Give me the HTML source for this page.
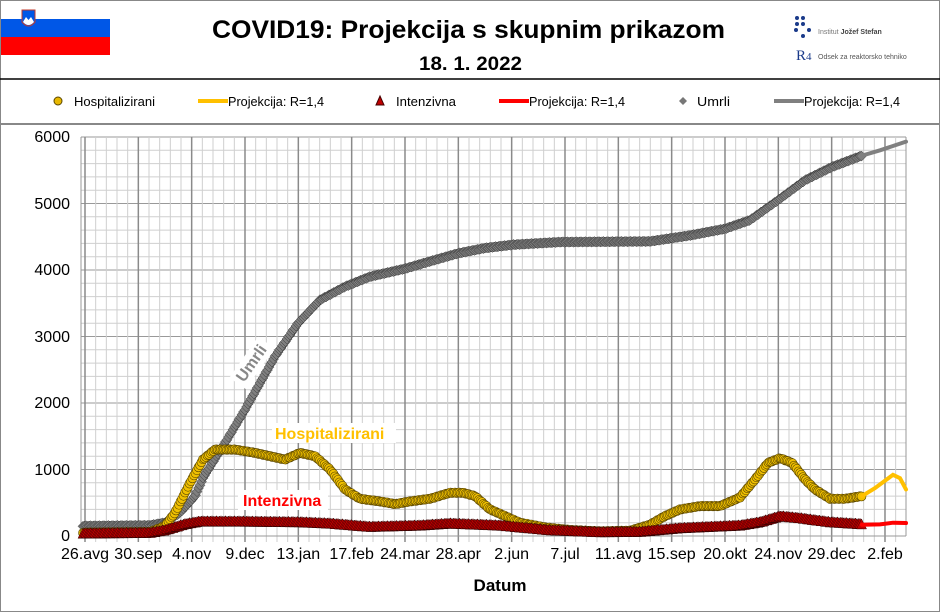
<!DOCTYPE html>
<html><head><meta charset="utf-8"><style>
html,body{margin:0;padding:0;background:#fff}
svg{display:block;font-family:"Liberation Sans",sans-serif}
</style></head><body>
<svg id="s" width="940" height="612" viewBox="0 0 940 612" xmlns="http://www.w3.org/2000/svg">
<rect x="0.5" y="0.5" width="939" height="611" fill="#fff" stroke="#888" stroke-width="1"/>
<rect x="1" y="19" width="109" height="18" fill="#0057e7"/>
<rect x="1" y="37" width="109" height="18" fill="#ff0000"/>
<path d="M22 10 L35 10 L35 22 Q28.5 30 22 22 Z" fill="#0057e7" stroke="#c0392b" stroke-width="1"/>
<path d="M23 22 L26 17 L28.5 20 L31 17 L34 22 Q28.5 28 23 22Z" fill="#fff"/>
<text x="212" y="38" font-size="25" font-weight="bold" textLength="513" lengthAdjust="spacingAndGlyphs">COVID19: Projekcija s skupnim prikazom</text>
<text x="419" y="70" font-size="19" font-weight="bold" textLength="103" lengthAdjust="spacingAndGlyphs">18. 1. 2022</text>
<g fill="#1a3a8a"><circle cx="797" cy="18" r="2"/><circle cx="803" cy="18" r="2"/><circle cx="797" cy="24" r="2"/><circle cx="803" cy="24" r="2"/><circle cx="796" cy="30" r="2"/><circle cx="809" cy="30" r="2"/><circle cx="803" cy="36" r="2"/></g>
<text x="818" y="34" font-size="7" fill="#777">Institut <tspan font-weight="bold" fill="#444">Jožef Stefan</tspan></text>
<text x="796" y="60" font-size="15" fill="#1a3a8a" font-family="Liberation Serif">R<tspan font-size="11">4</tspan></text>
<text x="818" y="59" font-size="7" fill="#555">Odsek za reaktorsko tehniko</text>
<line x1="0" y1="79" x2="940" y2="79" stroke="#000" stroke-width="1.5"/>
<line x1="0" y1="124" x2="940" y2="124" stroke="#888" stroke-width="2"/>
<g font-size="13">
<circle cx="58" cy="101" r="4" fill="#e8b800" stroke="#5a4600"/>
<text x="74" y="106" textLength="81" lengthAdjust="spacingAndGlyphs">Hospitalizirani</text>
<line x1="198" y1="101" x2="228" y2="101" stroke="#ffc000" stroke-width="4"/>
<text x="228" y="106" textLength="96" lengthAdjust="spacingAndGlyphs">Projekcija: R=1,4</text>
<path d="M380 96 L384 105 L376 105Z" fill="#c00000" stroke="#400"/>
<text x="396" y="106" textLength="60" lengthAdjust="spacingAndGlyphs">Intenzivna</text>
<line x1="499" y1="101" x2="529" y2="101" stroke="#ff0000" stroke-width="4"/>
<text x="529" y="106" textLength="96" lengthAdjust="spacingAndGlyphs">Projekcija: R=1,4</text>
<path d="M683 97 L687 101 L683 105 L679 101Z" fill="#777"/>
<text x="697" y="106" textLength="33" lengthAdjust="spacingAndGlyphs">Umrli</text>
<line x1="774" y1="101" x2="804" y2="101" stroke="#808080" stroke-width="4"/>
<text x="804" y="106" textLength="96" lengthAdjust="spacingAndGlyphs">Projekcija: R=1,4</text>
</g>
<g id="grid"></g>
<g id="data"></g>
<g font-size="16" text-anchor="end">
<text x="70" y="142">6000</text><text x="70" y="209">5000</text><text x="70" y="275">4000</text>
<text x="70" y="342">3000</text><text x="70" y="408">2000</text><text x="70" y="475">1000</text><text x="70" y="541">0</text>
</g>
<g id="xl" font-size="16" text-anchor="middle"></g>
<text x="500" y="591" text-anchor="middle" font-size="17" font-weight="bold">Datum</text>
<g font-weight="bold" font-size="16">
<rect x="272" y="423" width="124" height="20" fill="#fff"/>
<text x="275" y="439" fill="#ffc000">Hospitalizirani</text>
<rect x="238" y="490" width="90" height="20" fill="#fff"/>
<text x="243" y="506" fill="#ff0000">Intenzivna</text>
<g transform="translate(244,383) rotate(-55)"><rect x="-4" y="-15" width="50" height="20" fill="#fff"/><text x="0" y="0" fill="#888">Umrli</text></g>
</g>
</svg>
<script>
var NS="http://www.w3.org/2000/svg";
function el(p,t,a){var e=document.createElementNS(NS,t);for(var k in a)e.setAttribute(k,a[k]);p.appendChild(e);return e;}
var g=document.getElementById('grid');
var L=81,R=906,T=137,B=536;
for(var i=0;i<=30;i++){var y=B-i*399/30;el(g,'line',{x1:L,x2:R,y1:y,y2:y,stroke:i%5==0?'#999':'#cfcfcf','stroke-width':1});}
for(var x=85,k=0;x<=R;x+=53.333/5,k++){el(g,'line',{x1:x,x2:x,y1:T,y2:B+6,stroke:k%5==0?'#8a8a8a':'#cfcfcf','stroke-width':k%5==0?1.5:1});}
el(g,'line',{x1:L,x2:L,y1:T,y2:B,stroke:'#999'});el(g,'line',{x1:R,x2:R,y1:T,y2:B,stroke:'#999'});
el(g,'line',{x1:L,x2:R,y1:B,y2:B,stroke:'#999'});
var labs=["26.avg","30.sep","4.nov","9.dec","13.jan","17.feb","24.mar","28.apr","2.jun","7.jul","11.avg","15.sep","20.okt","24.nov","29.dec","2.feb"];
var xl=document.getElementById('xl');
labs.forEach(function(s,i){var t=el(xl,'text',{x:85+i*53.333,y:559});t.textContent=s;});
function Y(v){return B-v*0.0665;}
function interp(pts,x){for(var i=0;i<pts.length-1;i++){if(x>=pts[i][0]&&x<=pts[i+1][0]){var f=(x-pts[i][0])/(pts[i+1][0]-pts[i][0]);return pts[i][1]+f*(pts[i+1][1]-pts[i][1]);}}return pts[pts.length-1][1];}
var um=[[83,150],[150,160],[165,200],[180,350],[195,600],[204,900],[225,1400],[245,1900],[260,2300],[275,2700],[298,3200],[320,3550],[345,3750],[370,3900],[405,4020],[430,4130],[458,4250],[485,4330],[513,4380],[560,4420],[650,4430],[690,4520],[725,4620],[750,4750],[778,5050],[805,5350],[832,5550],[862,5720]];
var ho=[[83,50],[150,60],[165,150],[175,350],[190,800],[203,1150],[215,1300],[235,1300],[255,1250],[270,1200],[285,1150],[300,1250],[315,1200],[330,1000],[345,700],[360,560],[380,520],[395,480],[410,520],[430,560],[450,650],[463,650],[475,600],[490,400],[505,300],[520,200],[545,130],[570,90],[600,70],[630,80],[650,170],[665,300],[680,400],[700,450],[720,450],[740,580],[755,850],[768,1100],[780,1170],[792,1100],[805,850],[815,700],[830,560],[845,560],[862,600]];
var it=[[83,30],[150,40],[165,80],[185,170],[200,210],[240,210],[300,200],[330,180],[370,130],[420,150],[450,180],[500,150],[550,80],[600,50],[640,55],[680,110],[740,150],[760,200],[780,290],[800,260],[830,200],[862,170]];
var d=document.getElementById('data');
function series(pts,draw){var n=0;for(var x=pts[0][0];x<=862;x+=1.5,n++){var j=(n%3-1)*4;draw(x,Y(interp(pts,x)+j));}}
function proj(pts,col){var s="";pts.forEach(function(p,i){s+=(i?"L":"M")+p[0]+" "+Y(p[1]);});el(d,'path',{d:s,fill:'none',stroke:col,'stroke-width':4,'stroke-linecap':'round'});}
series(um,function(x,y){el(d,'path',{d:'M'+x+' '+(y-5)+'L'+(x+5)+' '+y+'L'+x+' '+(y+5)+'L'+(x-5)+' '+y+'Z',fill:'#808080',stroke:'#333','stroke-width':0.5});});
proj([[862,5720],[880,5800],[906,5930]],'#808080');
series(ho,function(x,y){el(d,'circle',{cx:x,cy:y,r:4.5,fill:'#f0c000',stroke:'#5a4600','stroke-width':0.6});});
proj([[862,600],[875,720],[893,920],[900,870],[906,700]],'#ffc000');
series(it,function(x,y){el(d,'path',{d:'M'+x+' '+(y-6)+'L'+(x+5)+' '+(y+4)+'L'+(x-5)+' '+(y+4)+'Z',fill:'#c00000',stroke:'#300','stroke-width':0.5});});
proj([[862,170],[880,175],[893,200],[906,195]],'#ff0000');
</script>
</body></html>
